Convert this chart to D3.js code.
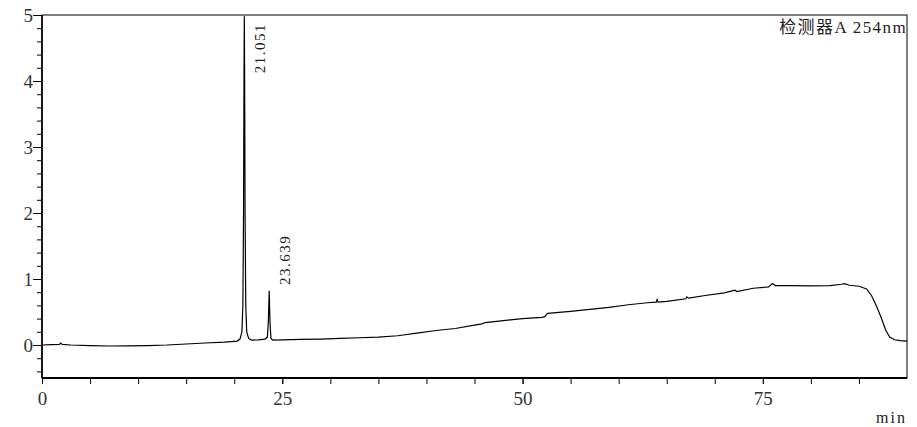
<!DOCTYPE html>
<html>
<head>
<meta charset="utf-8">
<script src="https://cdn.jsdelivr.net/npm/d3@7"></script>
<style>
  body { margin: 0; background: #fff; }
</style>
</head>
<body>
<svg id="chart" width="917" height="427"></svg>
<script>
// retention time (min) and signal
var times = [0, 1, 1.8, 1.95, 2.1, 3, 5, 7, 9, 11, 13, 15, 17, 19, 20.3,
  20.6, 20.8, 20.9, 20.97, 21.02, 21.051, 21.08, 21.13, 21.2, 21.3, 21.5, 21.8,
  22.5, 23.2, 23.45, 23.55, 23.639, 23.72, 23.82, 24.0,
  25, 27, 29, 31, 33, 35, 37, 39, 41, 43, 45, 45.8, 46.1, 48, 50, 52, 52.3, 52.6,
  55, 57, 59, 61, 63, 63.9, 64.0, 64.1, 65, 67, 67.1, 67.3, 69, 71, 72.1, 72.3,
  74, 75.6, 76.0, 76.3, 78, 80, 82, 83.2, 83.5, 84.0, 85, 85.8, 86.3, 86.8,
  87.3, 87.8, 88.2, 88.7, 89.3, 90];
var signal = [0.00, 0.005, 0.01, 0.03, 0.01, 0.0, -0.01, -0.015, -0.012, -0.008, 0.0, 0.015, 0.03, 0.045, 0.06,
  0.09, 0.2, 0.6, 2.0, 4.2, 4.98, 4.2, 2.0, 0.6, 0.2, 0.1, 0.075,
  0.078, 0.09, 0.12, 0.35, 0.82, 0.35, 0.1, 0.075,
  0.078, 0.085, 0.09, 0.10, 0.11, 0.12, 0.14, 0.18, 0.22, 0.25, 0.30, 0.32, 0.34, 0.37, 0.40, 0.42, 0.43, 0.48,
  0.51, 0.54, 0.57, 0.61, 0.64, 0.65, 0.69, 0.65, 0.66, 0.70, 0.73, 0.71, 0.75, 0.79, 0.83, 0.81,
  0.86, 0.88, 0.93, 0.90, 0.90, 0.895, 0.90, 0.92, 0.93, 0.905, 0.89, 0.85, 0.75, 0.6,
  0.42, 0.22, 0.12, 0.08, 0.065, 0.06];

var peakTimes = [21.051, 23.639];
var peakHeights = [4.98, 0.82];

var xTicks = [0, 25, 50, 75];
var yTicks = [0, 1, 2, 3, 4, 5];
var legendText = "检测器A 254nm";
var xUnit = "min";

const serif = "'Liberation Serif', 'Noto Sans CJK SC', serif";

const svg = d3.select("#chart"),
  margin = {top: 15, right: 10, bottom: 49, left: 42},
  width = +svg.attr("width") - margin.left - margin.right,
  height = +svg.attr("height") - margin.top - margin.bottom,
  x = d3.scaleLinear().domain([0, 90]).range([0, width]),
  y = d3.scaleLinear().domain([-0.5, 5]).range([height, 0]),
  g = svg.append("g").attr("transform", `translate(${margin.left},${margin.top})`);

g.append("clipPath").attr("id", "clip")
  .append("rect").attr("width", width).attr("height", height);

// minor ticks
g.append("g")
  .attr("transform", `translate(0,${height})`)
  .call(d3.axisBottom(x).tickValues(d3.range(0, 90, 5)).tickSize(6).tickFormat(""))
  .call(a => a.select(".domain").remove());
g.append("g")
  .call(d3.axisLeft(y).tickValues(d3.range(-0.4, 5, 0.2).filter(v => Math.abs(v - Math.round(v)) > 0.01)).tickSize(5).tickFormat(""))
  .call(a => a.select(".domain").remove());

// major ticks + labels
const xAxis = g.append("g")
  .attr("transform", `translate(0,${height})`)
  .call(d3.axisBottom(x).tickValues(xTicks).tickSize(6).tickPadding(8).tickFormat(d3.format("d")));
xAxis.select(".domain").remove();

const yAxis = g.append("g")
  .call(d3.axisLeft(y).tickValues(yTicks).tickSize(9).tickPadding(0).tickFormat(d3.format("d")));
yAxis.select(".domain").remove();

[xAxis, yAxis].forEach(a => a.attr("font-family", null).attr("font-size", null)
  .selectAll("text")
  .style("font-family", serif)
  .style("font-size", "19px")
  .attr("fill", "#333"));

g.selectAll(".tick line").attr("stroke", "#000");

// frame
g.append("rect").attr("width", width).attr("height", height)
  .attr("fill", "none").attr("stroke", "#000").attr("stroke-width", 1);
g.append("line").attr("x1", 0).attr("x2", width).attr("y1", height).attr("y2", height)
  .attr("stroke", "#000").attr("stroke-width", 2);
g.append("line").attr("x1", 0).attr("x2", 0).attr("y1", 0).attr("y2", height)
  .attr("stroke", "#000").attr("stroke-width", 1.6);

// trace
const pts = times.map((t, i) => [t, signal[i]]);
g.append("path")
  .datum(pts)
  .attr("clip-path", "url(#clip)")
  .attr("fill", "none")
  .attr("stroke", "#000")
  .attr("stroke-width", 1.2)
  .attr("d", d3.line().x(d => x(d[0])).y(d => y(d[1])));

// peak labels, rotated
peakTimes.forEach((t, i) => {
  const lbl = g.append("text")
    .style("font-family", serif)
    .style("font-size", "15px")
    .style("letter-spacing", "1.5px")
    .attr("fill", "#222")
    .text(t.toFixed(3));
  const len = lbl.node().getComputedTextLength();
  const yy = Math.max(y(peakHeights[i]) - 6, len + 8);
  lbl.attr("transform", `translate(${x(t) + 21},${yy}) rotate(-90)`);
});

// legend
g.append("text")
  .style("font-family", serif)
  .style("font-size", "17px")
  .style("letter-spacing", "1.4px")
  .attr("fill", "#222")
  .attr("text-anchor", "end")
  .attr("x", width)
  .attr("y", 18)
  .text(legendText);

svg.append("text")
  .style("font-family", serif)
  .style("font-size", "16px")
  .style("letter-spacing", "2px")
  .attr("fill", "#222")
  .attr("text-anchor", "end")
  .attr("x", 907)
  .attr("y", 423)
  .text(xUnit);
</script>
</body>
</html>
